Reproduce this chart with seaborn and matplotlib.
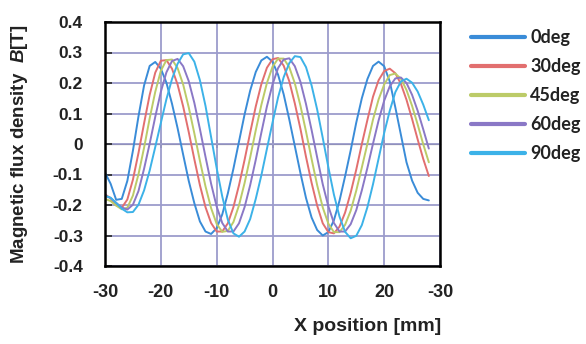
import numpy as np
import pandas as pd
import seaborn as sns
import matplotlib.pyplot as plt

# x position [mm]
x_pos = list(range(-30, 29))

# magnetic flux density B [T]
b_0deg = [-0.094, -0.130, -0.183, -0.180, -0.121, -0.022, 0.091, 0.192, 0.256, 0.269,
          0.247, 0.201, 0.132, 0.052, -0.035, -0.121, -0.194, -0.254, -0.287, -0.295,
          -0.276, -0.231, -0.162, -0.081, 0.008, 0.097, 0.175, 0.236, 0.274, 0.286,
          0.270, 0.227, 0.163, 0.081, -0.007, -0.095, -0.177, -0.241, -0.282, -0.300,
          -0.289, -0.250, -0.186, -0.106, -0.021, 0.070, 0.150, 0.213, 0.256, 0.270,
          0.255, 0.205, 0.120, 0.030, -0.060, -0.120, -0.160, -0.180, -0.185]
b_30deg = [-0.165, -0.178, -0.201, -0.209, -0.182, -0.117, -0.029, 0.068, 0.161, 0.234,
           0.273, 0.275, 0.247, 0.195, 0.123, 0.039, -0.050, -0.135, -0.207, -0.259,
           -0.287, -0.287, -0.260, -0.207, -0.135, -0.052, 0.037, 0.123, 0.196, 0.250,
           0.278, 0.282, 0.257, 0.206, 0.133, 0.050, -0.042, -0.127, -0.202, -0.260,
           -0.289, -0.293, -0.271, -0.225, -0.160, -0.084, 0.000, 0.079, 0.155, 0.209,
           0.239, 0.247, 0.232, 0.197, 0.145, 0.082, 0.015, -0.049, -0.105]
b_45deg = [-0.180, -0.187, -0.202, -0.214, -0.209, -0.169, -0.099, -0.012, 0.084, 0.171,
           0.240, 0.275, 0.277, 0.249, 0.195, 0.120, 0.035, -0.055, -0.139, -0.210,
           -0.262, -0.288, -0.285, -0.256, -0.201, -0.128, -0.044, 0.045, 0.128, 0.200,
           0.253, 0.280, 0.280, 0.252, 0.199, 0.126, 0.041, -0.049, -0.135, -0.208,
           -0.261, -0.289, -0.289, -0.265, -0.219, -0.153, -0.077, 0.001, 0.080, 0.146,
           0.195, 0.226, 0.231, 0.214, 0.177, 0.125, 0.064, -0.001, -0.060]
b_60deg = [-0.170, -0.177, -0.193, -0.208, -0.215, -0.199, -0.154, -0.081, 0.001, 0.089,
           0.171, 0.235, 0.272, 0.279, 0.255, 0.206, 0.135, 0.049, -0.042, -0.130,
           -0.205, -0.259, -0.287, -0.287, -0.260, -0.207, -0.135, -0.052, 0.037, 0.123,
           0.195, 0.249, 0.277, 0.281, 0.255, 0.204, 0.131, 0.046, -0.044, -0.132,
           -0.204, -0.259, -0.287, -0.287, -0.263, -0.217, -0.152, -0.078, 0.001, 0.077,
           0.142, 0.189, 0.215, 0.218, 0.200, 0.161, 0.109, 0.048, -0.015]
b_90deg = [-0.170, -0.176, -0.193, -0.212, -0.224, -0.223, -0.199, -0.152, -0.087, -0.010,
           0.069, 0.147, 0.213, 0.263, 0.294, 0.298, 0.270, 0.209, 0.125, 0.023,
           -0.079, -0.172, -0.248, -0.293, -0.304, -0.287, -0.246, -0.180, -0.103, -0.016,
           0.070, 0.153, 0.219, 0.265, 0.288, 0.285, 0.252, 0.192, 0.113, 0.020,
           -0.076, -0.166, -0.238, -0.288, -0.309, -0.301, -0.266, -0.207, -0.132, -0.048,
           0.036, 0.109, 0.170, 0.205, 0.214, 0.201, 0.172, 0.129, 0.078]

angles = ['0deg', '30deg', '45deg', '60deg', '90deg']
colors = ['#3a8cd8', '#e26f6f', '#bccb68', '#8a78c6', '#3cb2e8']

x_ticks = [-30, -20, -10, 0, 10, 20, 30]
x_tick_labels = ['-30', '-20', '-10', '0', '10', '20', '-30']
y_ticks = [-0.4, -0.3, -0.2, -0.1, 0, 0.1, 0.2, 0.3, 0.4]
y_tick_labels = ['-0.4', '-0.3', '-0.2', '-0.1', '0', '0.1', '0.2', '0.3', '0.4']

df = pd.DataFrame({
    'x': x_pos * 5,
    'B': b_0deg + b_30deg + b_45deg + b_60deg + b_90deg,
    'angle': np.repeat(angles, len(x_pos)),
})

sns.set_style('white')
plt.rcParams['font.family'] = ['Liberation Sans', 'DejaVu Sans']
plt.rcParams['mathtext.fontset'] = 'custom'
plt.rcParams['mathtext.it'] = 'Liberation Sans:italic:bold'

fig = plt.figure(figsize=(5.86, 3.44), dpi=100)
ax = fig.add_axes([105 / 586, 1 - 266 / 344, 335 / 586, 244 / 344])

sns.lineplot(data=df, x='x', y='B', hue='angle', palette=colors, ax=ax,
             linewidth=1.4, legend=True)

ax.set_xlim(-30, 30)
ax.set_ylim(-0.4, 0.4)
ax.set_xticks(x_ticks)
ax.set_xticklabels(x_tick_labels, fontweight='bold', color='#222222')
ax.set_yticks(y_ticks)
ax.set_yticklabels(y_tick_labels, fontweight='bold', color='#222222')
ax.grid(True, color='#9c9ccc', linewidth=1.3)
ax.set_axisbelow(True)
for s in ax.spines.values():
    s.set_visible(True)
    s.set_color('black')
    s.set_linewidth(1.8)

ax.tick_params(axis='x', length=0, pad=13, labelsize=13)
ax.tick_params(axis='y', direction='in', length=5, width=1.2, pad=16, labelsize=12.5,
               left=True)

# zero line with ticks
zero = ax.secondary_xaxis(0.5)
zero.set_xticks([-20, -10, 0, 10, 20])
zero.set_xticklabels([])
zero.tick_params(direction='inout', length=6, width=1.2)
zero.spines['bottom'].set_linewidth(2.2)
zero.spines['bottom'].set_color('black')

ax.set_xlabel('X position [mm]', fontsize=14, fontweight='bold', color='#222222')
ax.xaxis.set_label_coords(0.785, -0.215)
ax.set_ylabel(r'Magnetic flux density  $\it{B}$[T]', fontsize=13.5,
              fontweight='bold', color='#222222')
ax.yaxis.set_label_coords(-0.225, 0.5)

leg = ax.legend(loc='upper left', bbox_to_anchor=(462 / 586, 1 - 20 / 344),
                bbox_transform=fig.transFigure, frameon=False, borderpad=0,
                handlelength=3.0, handletextpad=0.28, labelspacing=0.67,
                prop={'family': 'Lato', 'size': 13, 'weight': 'bold'})
for line in leg.get_lines():
    line.set_linewidth(3)
for t in leg.get_texts():
    t.set_color('#222222')

fig.savefig('out.png', dpi=100)
